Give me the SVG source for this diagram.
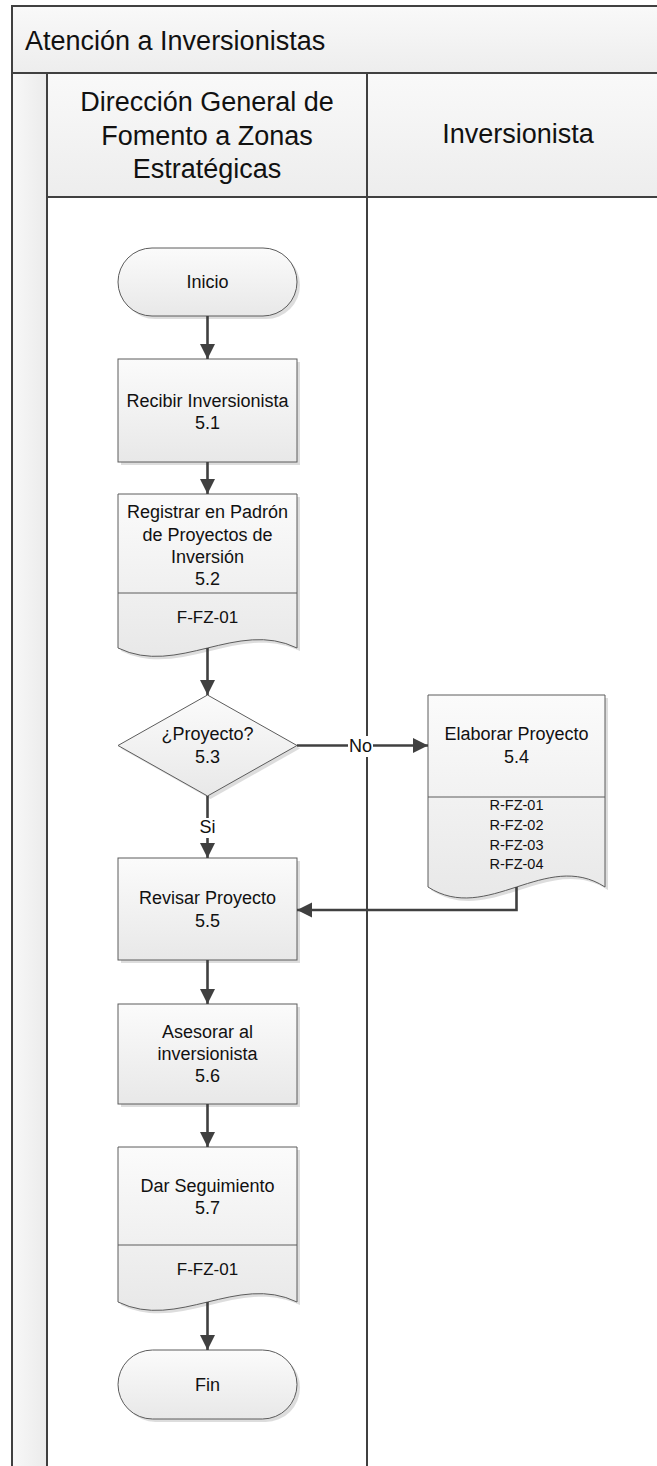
<svg xmlns="http://www.w3.org/2000/svg" width="657" height="1466" viewBox="0 0 657 1466">
  <defs>
    <linearGradient id="bandFill" x1="0" y1="0" x2="0" y2="1">
      <stop offset="0" stop-color="#f9f9f9"/>
      <stop offset="1" stop-color="#ededed"/>
    </linearGradient>
    <linearGradient id="stripFill" x1="0" y1="0" x2="1" y2="0">
      <stop offset="0" stop-color="#f8f8f8"/>
      <stop offset="1" stop-color="#ebebeb"/>
    </linearGradient>
    <linearGradient id="nodeFill" x1="0" y1="0" x2="0" y2="1">
      <stop offset="0" stop-color="#fbfbfb"/>
      <stop offset="1" stop-color="#e8e8e8"/>
    </linearGradient>
    <marker id="arrow" markerUnits="userSpaceOnUse" markerWidth="16" markerHeight="16" viewBox="0 0 16 16" refX="15" refY="8" orient="auto">
      <path d="M0,0.5 L15,8 L0,15.5 Z" fill="#404040"/>
    </marker>
  </defs>
  <style>
    .frame { stroke: #404040; stroke-width: 2; fill: none; }
    .node { fill: url(#nodeFill); stroke: #5c5c5c; stroke-width: 1; }
    .shadow { fill: #d2d2d2; opacity: 0.75; }
    .sep { stroke: #5c5c5c; stroke-width: 1; fill: none; }
    .wire { stroke: #404040; stroke-width: 2.6; fill: none; }
    .title { font-family: "Liberation Sans", Arial, sans-serif; font-size: 27px; fill: #111; }
    .lane { font-family: "Liberation Sans", Arial, sans-serif; font-size: 27px; fill: #111; text-anchor: middle; }
    .t { font-family: "Liberation Sans", Arial, sans-serif; font-size: 18px; fill: #111; text-anchor: middle; }
    .ref { font-family: "Liberation Sans", Arial, sans-serif; font-size: 17px; fill: #111; text-anchor: middle; }
    .refs { font-family: "Liberation Sans", Arial, sans-serif; font-size: 14.5px; fill: #111; text-anchor: middle; }
  </style>

  <!-- pool background -->
  <rect x="0" y="0" width="657" height="1466" fill="#ffffff"/>
  <g id="pool">
    <rect x="12" y="6" width="650" height="67" fill="url(#bandFill)"/>
    <rect x="12" y="73" width="35" height="1400" fill="url(#stripFill)"/>
    <rect x="47" y="73" width="320" height="124" fill="url(#bandFill)"/>
    <rect x="367" y="73" width="300" height="124" fill="url(#bandFill)"/>
    <path class="frame" d="M12,1470 V6 H670 M12,73 H670 M47,73 V1470 M367,73 V1470 M47,197 H670"/>
    <text class="title" x="25" y="50">Atención a Inversionistas</text>
    <text class="lane" x="207" y="111">Dirección General de</text>
    <text class="lane" x="207" y="145">Fomento a Zonas</text>
    <text class="lane" x="207" y="178">Estratégicas</text>
    <text class="lane" x="518" y="143">Inversionista</text>
  </g>

  <!-- start -->
  <g id="inicio">
    <rect class="shadow" x="121" y="251" width="179" height="68" rx="34"/>
    <rect class="node" x="118" y="248" width="179" height="68" rx="34"/>
    <text class="t" x="207.5" y="288">Inicio</text>
  </g>

  <!-- 5.1 -->
  <g id="recibir">
    <rect class="shadow" x="121" y="362" width="179" height="103"/>
    <rect class="node" x="118" y="359" width="179" height="103"/>
    <text class="t" x="207.5" y="407">Recibir Inversionista</text>
    <text class="t" x="207.5" y="429">5.1</text>
  </g>

  <!-- 5.2 with record -->
  <g id="registrar">
    <path class="shadow" d="M121,497 H300 V651 C240.3,622 180.7,680 121,651 Z"/>
    <path class="node" d="M118,494 H297 V648 C237.3,619 177.7,677 118,648 Z"/>
    <path class="sep" d="M118,593 H297"/>
    <text class="t" x="207.5" y="518">Registrar en Padrón</text>
    <text class="t" x="207.5" y="540.5">de Proyectos de</text>
    <text class="t" x="207.5" y="563">Inversión</text>
    <text class="t" x="207.5" y="585">5.2</text>
    <text class="ref" x="207.5" y="623">F-FZ-01</text>
  </g>

  <!-- 5.3 decision -->
  <g id="proyecto">
    <polygon class="shadow" points="210.5,698 300,748.5 210.5,799 121,748.5"/>
    <polygon class="node" points="207.5,695 297,745.5 207.5,796 118,745.5"/>
    <text class="t" x="207.5" y="740">¿Proyecto?</text>
    <text class="t" x="207.5" y="763">5.3</text>
  </g>

  <!-- 5.4 with records -->
  <g id="elaborar">
    <path class="shadow" d="M431,698 H608 V890 C549,852 490,928 431,890 Z"/>
    <path class="node" d="M428,695 H605 V887 C546,849 487,925 428,887 Z"/>
    <path class="sep" d="M428,797 H605"/>
    <text class="t" x="516.5" y="740">Elaborar Proyecto</text>
    <text class="t" x="516.5" y="763">5.4</text>
    <text class="refs" x="516.5" y="810">R-FZ-01</text>
    <text class="refs" x="516.5" y="830">R-FZ-02</text>
    <text class="refs" x="516.5" y="850">R-FZ-03</text>
    <text class="refs" x="516.5" y="869">R-FZ-04</text>
  </g>

  <!-- 5.5 -->
  <g id="revisar">
    <rect class="shadow" x="121" y="861" width="179" height="102"/>
    <rect class="node" x="118" y="858" width="179" height="102"/>
    <text class="t" x="207.5" y="904">Revisar Proyecto</text>
    <text class="t" x="207.5" y="927">5.5</text>
  </g>

  <!-- 5.6 -->
  <g id="asesorar">
    <rect class="shadow" x="121" y="1007" width="179" height="100"/>
    <rect class="node" x="118" y="1004" width="179" height="100"/>
    <text class="t" x="207.5" y="1038">Asesorar al</text>
    <text class="t" x="207.5" y="1060">inversionista</text>
    <text class="t" x="207.5" y="1082">5.6</text>
  </g>

  <!-- 5.7 with record -->
  <g id="seguimiento">
    <path class="shadow" d="M121,1150 H300 V1305 C240.3,1276 180.7,1334 121,1305 Z"/>
    <path class="node" d="M118,1147 H297 V1302 C237.3,1273 177.7,1331 118,1302 Z"/>
    <path class="sep" d="M118,1245 H297"/>
    <text class="t" x="207.5" y="1192">Dar Seguimiento</text>
    <text class="t" x="207.5" y="1214">5.7</text>
    <text class="ref" x="207.5" y="1275">F-FZ-01</text>
  </g>

  <!-- end -->
  <g id="fin">
    <rect class="shadow" x="121" y="1353" width="179" height="69" rx="34.5"/>
    <rect class="node" x="118" y="1350" width="179" height="69" rx="34.5"/>
    <text class="t" x="207.5" y="1391">Fin</text>
  </g>

  <!-- connectors -->
  <g id="connectors">
    <path class="wire" d="M207.5,316 V359" marker-end="url(#arrow)"/>
    <path class="wire" d="M207.5,462 V494" marker-end="url(#arrow)"/>
    <path class="wire" d="M207.5,648 V695" marker-end="url(#arrow)"/>
    <path class="wire" d="M297,745.5 H428" marker-end="url(#arrow)"/>
    <path class="wire" d="M207.5,796 V858" marker-end="url(#arrow)"/>
    <path class="wire" d="M516.5,887 V910 H297" marker-end="url(#arrow)"/>
    <path class="wire" d="M207.5,960 V1004" marker-end="url(#arrow)"/>
    <path class="wire" d="M207.5,1104 V1147" marker-end="url(#arrow)"/>
    <path class="wire" d="M207.5,1302 V1350" marker-end="url(#arrow)"/>
    <rect x="348" y="736" width="25" height="21" fill="#ffffff"/>
    <text class="t" x="360.5" y="752">No</text>
    <rect x="198" y="818" width="19" height="20" fill="#ffffff"/>
    <text class="t" x="207.5" y="833">Si</text>
  </g>
</svg>
